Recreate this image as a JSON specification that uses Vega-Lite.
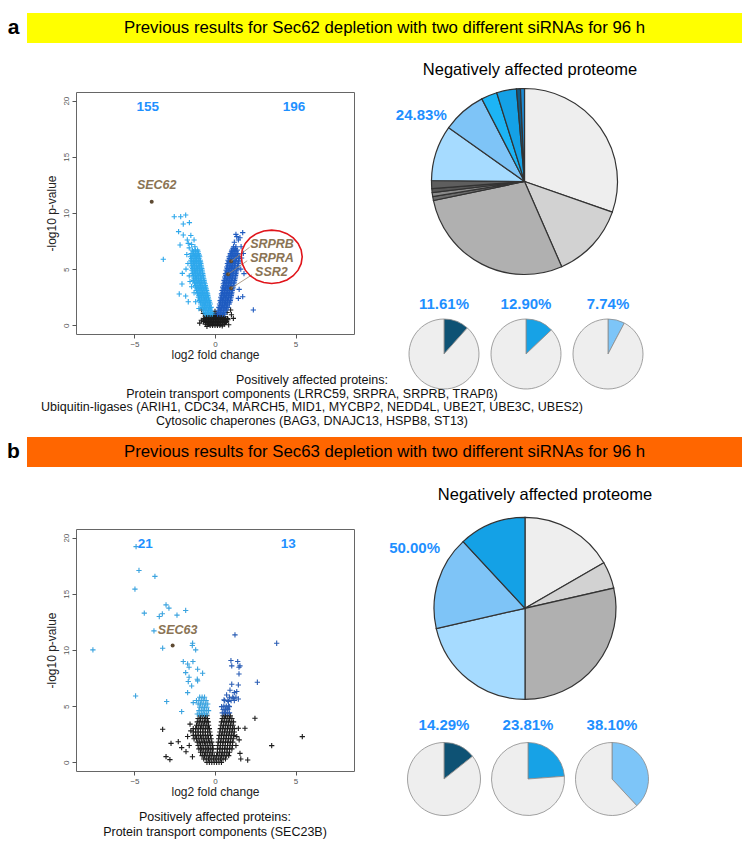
{
"$schema": "https://vega.github.io/schema/vega-lite/v6.json",
"padding": {"left": 0, "top": 13, "right": 0, "bottom": 0},
"background": "white",
"config": {"view": {"stroke": null}, "font": "Liberation Sans", "text": {"font": "Liberation Sans"}, "axis": {"labelFont": "Liberation Sans", "titleFont": "Liberation Sans"}},
"spacing": 0,
"resolve": {"scale": {"color": "independent", "theta": "independent"}},
"vconcat": [
 {"hconcat": [
  {"width": 27, "height": 30, "data": {"values": [{"t": "a"}]}, "mark": {"type": "text", "fontSize": 21, "fontWeight": "bold", "color": "#000"}, "encoding": {"text": {"field": "t"}}},
  {"width": 715, "height": 30, "view": {"fill": "#FFFF00", "stroke": null}, "data": {"values": [{"t": "Previous results for Sec62 depletion with two different siRNAs for 96 h"}]}, "mark": {"type": "text", "fontSize": 16.8, "color": "#000"}, "encoding": {"text": {"field": "t"}}}
 ], "spacing": 0, "bounds": "flush"},
 {"columns": 4, "spacing": 0, "bounds": "flush", "align": "each",
  "resolve": {"scale": {"color": "independent", "theta": "independent"}},
  "concat": [
   {"width": 76, "height": 49, "data": {"values": [{}]}, "mark": {"type": "point", "opacity": 0, "size": 0}},
   {"width": 278, "height": 0.01, "data": {"values": [{}]}, "mark": {"type": "point", "opacity": 0, "size": 0}},
   {"width": 49, "height": 0.01, "data": {"values": [{}]}, "mark": {"type": "point", "opacity": 0, "size": 0}},
   {"width": 246, "height": 0.01, "data": {"values": [{}]}, "mark": {"type": "point", "opacity": 0, "size": 0}},

   {"width": 76, "height": 0.01, "data": {"values": [{}]}, "mark": {"type": "point", "opacity": 0, "size": 0}},
   {"width": 278, "height": 242,
    "view": {"stroke": "#666", "strokeWidth": 1},
    "layer": [
     {"data": {"values": [
{"x":-0.3,"y":0,"g":"N"},{"x":-0.15,"y":0,"g":"N"},{"x":0,"y":0,"g":"N"},{"x":0.15,"y":0,"g":"N"},{"x":0.3,"y":0,"g":"N"},
{"x":-0.6,"y":0.1,"g":"N"},{"x":-0.48,"y":0.1,"g":"N"},{"x":-0.36,"y":0.1,"g":"N"},{"x":-0.24,"y":0.1,"g":"N"},{"x":-0.12,"y":0.1,"g":"N"},{"x":0,"y":0.1,"g":"N"},{"x":0.12,"y":0.1,"g":"N"},{"x":0.24,"y":0.1,"g":"N"},{"x":0.36,"y":0.1,"g":"N"},{"x":0.48,"y":0.1,"g":"N"},{"x":0.6,"y":0.1,"g":"N"},
{"x":-0.55,"y":0.25,"g":"N"},{"x":-0.4,"y":0.25,"g":"N"},{"x":-0.25,"y":0.25,"g":"N"},{"x":-0.1,"y":0.25,"g":"N"},{"x":0.05,"y":0.25,"g":"N"},{"x":0.2,"y":0.25,"g":"N"},{"x":0.35,"y":0.25,"g":"N"},{"x":0.5,"y":0.25,"g":"N"},{"x":0.65,"y":0.25,"g":"N"},
{"x":-0.72,"y":0.35,"g":"N"},{"x":-0.6,"y":0.35,"g":"N"},{"x":-0.48,"y":0.35,"g":"N"},{"x":-0.36,"y":0.35,"g":"N"},{"x":-0.24,"y":0.35,"g":"N"},{"x":-0.12,"y":0.35,"g":"N"},{"x":0,"y":0.35,"g":"N"},{"x":0.12,"y":0.35,"g":"N"},{"x":0.24,"y":0.35,"g":"N"},{"x":0.36,"y":0.35,"g":"N"},{"x":0.48,"y":0.35,"g":"N"},{"x":0.6,"y":0.35,"g":"N"},{"x":0.72,"y":0.35,"g":"N"},
{"x":-0.7,"y":0.5,"g":"N"},{"x":-0.55,"y":0.5,"g":"N"},{"x":-0.4,"y":0.5,"g":"N"},{"x":-0.25,"y":0.5,"g":"N"},{"x":-0.1,"y":0.5,"g":"N"},{"x":0.05,"y":0.5,"g":"N"},{"x":0.2,"y":0.5,"g":"N"},{"x":0.35,"y":0.5,"g":"N"},{"x":0.5,"y":0.5,"g":"N"},{"x":0.65,"y":0.5,"g":"N"},{"x":0.8,"y":0.5,"g":"N"},
{"x":-0.66,"y":0.6,"g":"N"},{"x":-0.54,"y":0.6,"g":"N"},{"x":-0.42,"y":0.6,"g":"N"},{"x":-0.3,"y":0.6,"g":"N"},{"x":-0.18,"y":0.6,"g":"N"},{"x":-0.06,"y":0.6,"g":"N"},{"x":0.06,"y":0.6,"g":"N"},{"x":0.18,"y":0.6,"g":"N"},{"x":0.3,"y":0.6,"g":"N"},{"x":0.42,"y":0.6,"g":"N"},{"x":0.54,"y":0.6,"g":"N"},{"x":0.66,"y":0.6,"g":"N"},{"x":0.78,"y":0.6,"g":"N"},
{"x":-0.6,"y":0.75,"g":"N"},{"x":-0.45,"y":0.75,"g":"N"},{"x":-0.3,"y":0.75,"g":"N"},{"x":-0.15,"y":0.75,"g":"N"},{"x":0,"y":0.75,"g":"N"},{"x":0.15,"y":0.75,"g":"N"},{"x":0.3,"y":0.75,"g":"N"},{"x":0.45,"y":0.75,"g":"N"},{"x":0.6,"y":0.75,"g":"N"},
{"x":-0.5,"y":0.85,"g":"N"},{"x":-0.38,"y":0.85,"g":"N"},{"x":-0.26,"y":0.85,"g":"N"},{"x":-0.14,"y":0.85,"g":"N"},{"x":-0.02,"y":0.85,"g":"N"},{"x":0.1,"y":0.85,"g":"N"},{"x":0.22,"y":0.85,"g":"N"},{"x":0.34,"y":0.85,"g":"N"},{"x":0.46,"y":0.85,"g":"N"},
{"x":-0.05,"y":1.0,"g":"N"},{"x":0.07,"y":1.0,"g":"N"},{"x":0,"y":1.25,"g":"N"},
{"x":-0.85,"y":0.45,"g":"N"},{"x":1.14,"y":0.62,"g":"N"},{"x":0.97,"y":1.37,"g":"N"},{"x":-0.83,"y":1.37,"g":"N"},{"x":-0.95,"y":0.2,"g":"N"},{"x":0.85,"y":0.05,"g":"N"},{"x":1.02,"y":0.95,"g":"N"},{"x":-0.72,"y":1.05,"g":"N"},{"x":0.75,"y":1.15,"g":"N"},{"x":-0.5,"y":-0.1,"g":"N"},{"x":0.45,"y":-0.05,"g":"N"},
{"x":-0.6,"y":1.0,"g":"L"},{"x":-0.45,"y":1.0,"g":"L"},{"x":-0.3,"y":1.0,"g":"L"},{"x":-0.17,"y":1.0,"g":"L"},
{"x":-0.62,"y":1.15,"g":"L"},{"x":-0.47,"y":1.15,"g":"L"},{"x":-0.32,"y":1.15,"g":"L"},{"x":-0.2,"y":1.15,"g":"L"},
{"x":-0.7,"y":1.3,"g":"L"},{"x":-0.55,"y":1.3,"g":"L"},{"x":-0.4,"y":1.3,"g":"L"},{"x":-0.25,"y":1.3,"g":"L"},
{"x":-0.72,"y":1.45,"g":"L"},{"x":-0.57,"y":1.45,"g":"L"},{"x":-0.42,"y":1.45,"g":"L"},{"x":-0.28,"y":1.45,"g":"L"},
{"x":-0.8,"y":1.6,"g":"L"},{"x":-0.65,"y":1.6,"g":"L"},{"x":-0.5,"y":1.6,"g":"L"},{"x":-0.35,"y":1.6,"g":"L"},{"x":-0.24,"y":1.6,"g":"L"},
{"x":-0.8,"y":1.75,"g":"L"},{"x":-0.65,"y":1.75,"g":"L"},{"x":-0.5,"y":1.75,"g":"L"},{"x":-0.35,"y":1.75,"g":"L"},
{"x":-0.88,"y":1.9,"g":"L"},{"x":-0.73,"y":1.9,"g":"L"},{"x":-0.58,"y":1.9,"g":"L"},{"x":-0.43,"y":1.9,"g":"L"},{"x":-0.29,"y":1.9,"g":"L"},
{"x":-0.9,"y":2.05,"g":"L"},{"x":-0.75,"y":2.05,"g":"L"},{"x":-0.6,"y":2.05,"g":"L"},{"x":-0.45,"y":2.05,"g":"L"},{"x":-0.33,"y":2.05,"g":"L"},
{"x":-0.97,"y":2.2,"g":"L"},{"x":-0.82,"y":2.2,"g":"L"},{"x":-0.67,"y":2.2,"g":"L"},{"x":-0.52,"y":2.2,"g":"L"},{"x":-0.36,"y":2.2,"g":"L"},
{"x":-0.96,"y":2.35,"g":"L"},{"x":-0.81,"y":2.35,"g":"L"},{"x":-0.66,"y":2.35,"g":"L"},{"x":-0.51,"y":2.35,"g":"L"},{"x":-0.4,"y":2.35,"g":"L"},
{"x":-1.03,"y":2.5,"g":"L"},{"x":-0.88,"y":2.5,"g":"L"},{"x":-0.73,"y":2.5,"g":"L"},{"x":-0.58,"y":2.5,"g":"L"},{"x":-0.42,"y":2.5,"g":"L"},
{"x":-1.0,"y":2.65,"g":"L"},{"x":-0.85,"y":2.65,"g":"L"},{"x":-0.7,"y":2.65,"g":"L"},{"x":-0.55,"y":2.65,"g":"L"},{"x":-0.45,"y":2.65,"g":"L"},
{"x":-1.08,"y":2.8,"g":"L"},{"x":-0.93,"y":2.8,"g":"L"},{"x":-0.78,"y":2.8,"g":"L"},{"x":-0.63,"y":2.8,"g":"L"},{"x":-0.46,"y":2.8,"g":"L"},
{"x":-1.07,"y":2.95,"g":"L"},{"x":-0.92,"y":2.95,"g":"L"},{"x":-0.77,"y":2.95,"g":"L"},{"x":-0.62,"y":2.95,"g":"L"},{"x":-0.5,"y":2.95,"g":"L"},
{"x":-1.15,"y":3.1,"g":"L"},{"x":-1.0,"y":3.1,"g":"L"},{"x":-0.85,"y":3.1,"g":"L"},{"x":-0.7,"y":3.1,"g":"L"},{"x":-0.52,"y":3.1,"g":"L"},
{"x":-1.13,"y":3.25,"g":"L"},{"x":-0.98,"y":3.25,"g":"L"},{"x":-0.83,"y":3.25,"g":"L"},{"x":-0.68,"y":3.25,"g":"L"},{"x":-0.55,"y":3.25,"g":"L"},
{"x":-1.2,"y":3.4,"g":"L"},{"x":-1.05,"y":3.4,"g":"L"},{"x":-0.9,"y":3.4,"g":"L"},{"x":-0.75,"y":3.4,"g":"L"},{"x":-0.58,"y":3.4,"g":"L"},
{"x":-1.2,"y":3.55,"g":"L"},{"x":-1.05,"y":3.55,"g":"L"},{"x":-0.9,"y":3.55,"g":"L"},{"x":-0.75,"y":3.55,"g":"L"},{"x":-0.6,"y":3.55,"g":"L"},
{"x":-1.27,"y":3.7,"g":"L"},{"x":-1.12,"y":3.7,"g":"L"},{"x":-0.97,"y":3.7,"g":"L"},{"x":-0.82,"y":3.7,"g":"L"},{"x":-0.62,"y":3.7,"g":"L"},
{"x":-1.26,"y":3.85,"g":"L"},{"x":-1.11,"y":3.85,"g":"L"},{"x":-0.96,"y":3.85,"g":"L"},{"x":-0.81,"y":3.85,"g":"L"},{"x":-0.66,"y":3.85,"g":"L"},
{"x":-1.33,"y":4.0,"g":"L"},{"x":-1.18,"y":4.0,"g":"L"},{"x":-1.03,"y":4.0,"g":"L"},{"x":-0.88,"y":4.0,"g":"L"},{"x":-0.68,"y":4.0,"g":"L"},
{"x":-1.3,"y":4.15,"g":"L"},{"x":-1.15,"y":4.15,"g":"L"},{"x":-1.0,"y":4.15,"g":"L"},{"x":-0.85,"y":4.15,"g":"L"},{"x":-0.7,"y":4.15,"g":"L"},
{"x":-1.36,"y":4.3,"g":"L"},{"x":-1.21,"y":4.3,"g":"L"},{"x":-1.06,"y":4.3,"g":"L"},{"x":-0.91,"y":4.3,"g":"L"},{"x":-0.72,"y":4.3,"g":"L"},
{"x":-1.33,"y":4.45,"g":"L"},{"x":-1.18,"y":4.45,"g":"L"},{"x":-1.03,"y":4.45,"g":"L"},{"x":-0.88,"y":4.45,"g":"L"},{"x":-0.75,"y":4.45,"g":"L"},
{"x":-1.4,"y":4.6,"g":"L"},{"x":-1.25,"y":4.6,"g":"L"},{"x":-1.1,"y":4.6,"g":"L"},{"x":-0.95,"y":4.6,"g":"L"},{"x":-0.76,"y":4.6,"g":"L"},
{"x":-1.36,"y":4.75,"g":"L"},{"x":-1.21,"y":4.75,"g":"L"},{"x":-1.06,"y":4.75,"g":"L"},{"x":-0.91,"y":4.75,"g":"L"},{"x":-0.78,"y":4.75,"g":"L"},
{"x":-1.43,"y":4.9,"g":"L"},{"x":-1.28,"y":4.9,"g":"L"},{"x":-1.13,"y":4.9,"g":"L"},{"x":-0.98,"y":4.9,"g":"L"},{"x":-0.8,"y":4.9,"g":"L"},
{"x":-1.39,"y":5.05,"g":"L"},{"x":-1.24,"y":5.05,"g":"L"},{"x":-1.09,"y":5.05,"g":"L"},{"x":-0.94,"y":5.05,"g":"L"},{"x":-0.82,"y":5.05,"g":"L"},
{"x":-1.46,"y":5.2,"g":"L"},{"x":-1.31,"y":5.2,"g":"L"},{"x":-1.16,"y":5.2,"g":"L"},{"x":-1.01,"y":5.2,"g":"L"},{"x":-0.84,"y":5.2,"g":"L"},
{"x":-1.42,"y":5.35,"g":"L"},{"x":-1.27,"y":5.35,"g":"L"},{"x":-1.12,"y":5.35,"g":"L"},{"x":-0.97,"y":5.35,"g":"L"},{"x":-0.86,"y":5.35,"g":"L"},
{"x":-1.49,"y":5.5,"g":"L"},{"x":-1.34,"y":5.5,"g":"L"},{"x":-1.19,"y":5.5,"g":"L"},{"x":-1.04,"y":5.5,"g":"L"},{"x":-0.88,"y":5.5,"g":"L"},
{"x":-1.44,"y":5.65,"g":"L"},{"x":-1.29,"y":5.65,"g":"L"},{"x":-1.14,"y":5.65,"g":"L"},{"x":-0.99,"y":5.65,"g":"L"},{"x":-0.9,"y":5.65,"g":"L"},
{"x":-1.5,"y":5.8,"g":"L"},{"x":-1.35,"y":5.8,"g":"L"},{"x":-1.2,"y":5.8,"g":"L"},{"x":-1.05,"y":5.8,"g":"L"},{"x":-0.92,"y":5.8,"g":"L"},
{"x":-1.45,"y":5.95,"g":"L"},{"x":-1.3,"y":5.95,"g":"L"},{"x":-1.15,"y":5.95,"g":"L"},{"x":-1.0,"y":5.95,"g":"L"},
{"x":-1.52,"y":6.1,"g":"L"},{"x":-1.37,"y":6.1,"g":"L"},{"x":-1.22,"y":6.1,"g":"L"},{"x":-1.07,"y":6.1,"g":"L"},{"x":-0.95,"y":6.1,"g":"L"},
{"x":-1.42,"y":6.25,"g":"L"},{"x":-1.27,"y":6.25,"g":"L"},{"x":-1.12,"y":6.25,"g":"L"},{"x":-0.98,"y":6.25,"g":"L"},
{"x":-1.48,"y":6.4,"g":"L"},{"x":-1.33,"y":6.4,"g":"L"},{"x":-1.18,"y":6.4,"g":"L"},{"x":-1.03,"y":6.4,"g":"L"},
{"x":-1.35,"y":6.55,"g":"L"},{"x":-1.2,"y":6.55,"g":"L"},{"x":-1.05,"y":6.55,"g":"L"},
{"x":-1.4,"y":6.7,"g":"L"},{"x":-1.22,"y":6.7,"g":"L"},{"x":-1.08,"y":6.7,"g":"L"},
{"x":-2.53,"y":9.67,"g":"L"},{"x":-2.13,"y":9.67,"g":"L"},{"x":-1.82,"y":9.82,"g":"L"},{"x":-1.97,"y":9.02,"g":"L"},{"x":-1.59,"y":9.14,"g":"L"},{"x":-2.26,"y":8.34,"g":"L"},{"x":-1.97,"y":8.04,"g":"L"},{"x":-1.72,"y":7.6,"g":"L"},{"x":-2.17,"y":7.15,"g":"L"},{"x":-1.66,"y":7.3,"g":"L"},{"x":-3.21,"y":5.88,"g":"L"},{"x":-2.03,"y":4.63,"g":"L"},{"x":-2.05,"y":3.68,"g":"L"},{"x":-2.22,"y":2.79,"g":"L"},{"x":-1.82,"y":2.61,"g":"L"},{"x":-1.66,"y":2.1,"g":"L"},{"x":-1.45,"y":3.44,"g":"L"},{"x":-1.6,"y":6.9,"g":"L"},{"x":-1.75,"y":6.3,"g":"L"},{"x":-1.68,"y":5.5,"g":"L"},{"x":-1.8,"y":5.0,"g":"L"},{"x":-1.6,"y":4.4,"g":"L"},{"x":-1.55,"y":3.9,"g":"L"},{"x":-1.3,"y":2.9,"g":"L"},{"x":-1.2,"y":2.1,"g":"L"},{"x":-1.0,"y":1.5,"g":"L"},{"x":-1.45,"y":7.2,"g":"L"},{"x":-1.25,"y":7.0,"g":"L"},{"x":-1.3,"y":7.6,"g":"L"},{"x":-1.5,"y":8.0,"g":"L"},
{"x":0.16,"y":1.0,"g":"R"},{"x":0.31,"y":1.0,"g":"R"},{"x":0.46,"y":1.0,"g":"R"},{"x":0.6,"y":1.0,"g":"R"},
{"x":0.23,"y":1.15,"g":"R"},{"x":0.38,"y":1.15,"g":"R"},{"x":0.53,"y":1.15,"g":"R"},
{"x":0.2,"y":1.3,"g":"R"},{"x":0.35,"y":1.3,"g":"R"},{"x":0.5,"y":1.3,"g":"R"},{"x":0.67,"y":1.3,"g":"R"},
{"x":0.27,"y":1.45,"g":"R"},{"x":0.42,"y":1.45,"g":"R"},{"x":0.57,"y":1.45,"g":"R"},{"x":0.72,"y":1.45,"g":"R"},
{"x":0.24,"y":1.6,"g":"R"},{"x":0.39,"y":1.6,"g":"R"},{"x":0.54,"y":1.6,"g":"R"},{"x":0.69,"y":1.6,"g":"R"},{"x":0.8,"y":1.6,"g":"R"},
{"x":0.31,"y":1.75,"g":"R"},{"x":0.46,"y":1.75,"g":"R"},{"x":0.61,"y":1.75,"g":"R"},{"x":0.76,"y":1.75,"g":"R"},
{"x":0.28,"y":1.9,"g":"R"},{"x":0.43,"y":1.9,"g":"R"},{"x":0.58,"y":1.9,"g":"R"},{"x":0.73,"y":1.9,"g":"R"},{"x":0.89,"y":1.9,"g":"R"},
{"x":0.35,"y":2.05,"g":"R"},{"x":0.5,"y":2.05,"g":"R"},{"x":0.65,"y":2.05,"g":"R"},{"x":0.8,"y":2.05,"g":"R"},{"x":0.92,"y":2.05,"g":"R"},
{"x":0.32,"y":2.2,"g":"R"},{"x":0.47,"y":2.2,"g":"R"},{"x":0.62,"y":2.2,"g":"R"},{"x":0.77,"y":2.2,"g":"R"},{"x":0.95,"y":2.2,"g":"R"},
{"x":0.39,"y":2.35,"g":"R"},{"x":0.54,"y":2.35,"g":"R"},{"x":0.69,"y":2.35,"g":"R"},{"x":0.84,"y":2.35,"g":"R"},{"x":0.97,"y":2.35,"g":"R"},
{"x":0.36,"y":2.5,"g":"R"},{"x":0.51,"y":2.5,"g":"R"},{"x":0.66,"y":2.5,"g":"R"},{"x":0.81,"y":2.5,"g":"R"},{"x":0.99,"y":2.5,"g":"R"},
{"x":0.43,"y":2.65,"g":"R"},{"x":0.58,"y":2.65,"g":"R"},{"x":0.73,"y":2.65,"g":"R"},{"x":0.88,"y":2.65,"g":"R"},{"x":1.01,"y":2.65,"g":"R"},
{"x":0.4,"y":2.8,"g":"R"},{"x":0.55,"y":2.8,"g":"R"},{"x":0.7,"y":2.8,"g":"R"},{"x":0.85,"y":2.8,"g":"R"},{"x":1.03,"y":2.8,"g":"R"},
{"x":0.47,"y":2.95,"g":"R"},{"x":0.62,"y":2.95,"g":"R"},{"x":0.77,"y":2.95,"g":"R"},{"x":0.92,"y":2.95,"g":"R"},{"x":1.05,"y":2.95,"g":"R"},
{"x":0.44,"y":3.1,"g":"R"},{"x":0.59,"y":3.1,"g":"R"},{"x":0.74,"y":3.1,"g":"R"},{"x":0.89,"y":3.1,"g":"R"},{"x":1.07,"y":3.1,"g":"R"},
{"x":0.51,"y":3.25,"g":"R"},{"x":0.66,"y":3.25,"g":"R"},{"x":0.81,"y":3.25,"g":"R"},{"x":0.96,"y":3.25,"g":"R"},{"x":1.1,"y":3.25,"g":"R"},
{"x":0.48,"y":3.4,"g":"R"},{"x":0.63,"y":3.4,"g":"R"},{"x":0.78,"y":3.4,"g":"R"},{"x":0.93,"y":3.4,"g":"R"},{"x":1.12,"y":3.4,"g":"R"},
{"x":0.55,"y":3.55,"g":"R"},{"x":0.7,"y":3.55,"g":"R"},{"x":0.85,"y":3.55,"g":"R"},{"x":1.0,"y":3.55,"g":"R"},{"x":1.15,"y":3.55,"g":"R"},
{"x":0.52,"y":3.7,"g":"R"},{"x":0.67,"y":3.7,"g":"R"},{"x":0.82,"y":3.7,"g":"R"},{"x":0.97,"y":3.7,"g":"R"},{"x":1.17,"y":3.7,"g":"R"},
{"x":0.59,"y":3.85,"g":"R"},{"x":0.74,"y":3.85,"g":"R"},{"x":0.89,"y":3.85,"g":"R"},{"x":1.04,"y":3.85,"g":"R"},{"x":1.19,"y":3.85,"g":"R"},
{"x":0.56,"y":4.0,"g":"R"},{"x":0.71,"y":4.0,"g":"R"},{"x":0.86,"y":4.0,"g":"R"},{"x":1.01,"y":4.0,"g":"R"},{"x":1.22,"y":4.0,"g":"R"},
{"x":0.63,"y":4.15,"g":"R"},{"x":0.78,"y":4.15,"g":"R"},{"x":0.93,"y":4.15,"g":"R"},{"x":1.08,"y":4.15,"g":"R"},{"x":1.24,"y":4.15,"g":"R"},
{"x":0.6,"y":4.3,"g":"R"},{"x":0.75,"y":4.3,"g":"R"},{"x":0.9,"y":4.3,"g":"R"},{"x":1.05,"y":4.3,"g":"R"},{"x":1.27,"y":4.3,"g":"R"},
{"x":0.67,"y":4.45,"g":"R"},{"x":0.82,"y":4.45,"g":"R"},{"x":0.97,"y":4.45,"g":"R"},{"x":1.12,"y":4.45,"g":"R"},{"x":1.28,"y":4.45,"g":"R"},
{"x":0.65,"y":4.6,"g":"R"},{"x":0.8,"y":4.6,"g":"R"},{"x":0.95,"y":4.6,"g":"R"},{"x":1.1,"y":4.6,"g":"R"},{"x":1.3,"y":4.6,"g":"R"},
{"x":0.72,"y":4.75,"g":"R"},{"x":0.87,"y":4.75,"g":"R"},{"x":1.02,"y":4.75,"g":"R"},{"x":1.17,"y":4.75,"g":"R"},{"x":1.32,"y":4.75,"g":"R"},
{"x":0.69,"y":4.9,"g":"R"},{"x":0.84,"y":4.9,"g":"R"},{"x":0.99,"y":4.9,"g":"R"},{"x":1.14,"y":4.9,"g":"R"},{"x":1.35,"y":4.9,"g":"R"},
{"x":0.76,"y":5.05,"g":"R"},{"x":0.91,"y":5.05,"g":"R"},{"x":1.06,"y":5.05,"g":"R"},{"x":1.21,"y":5.05,"g":"R"},{"x":1.37,"y":5.05,"g":"R"},
{"x":0.73,"y":5.2,"g":"R"},{"x":0.88,"y":5.2,"g":"R"},{"x":1.03,"y":5.2,"g":"R"},{"x":1.18,"y":5.2,"g":"R"},{"x":1.4,"y":5.2,"g":"R"},
{"x":0.8,"y":5.35,"g":"R"},{"x":0.95,"y":5.35,"g":"R"},{"x":1.1,"y":5.35,"g":"R"},{"x":1.25,"y":5.35,"g":"R"},{"x":1.42,"y":5.35,"g":"R"},
{"x":0.77,"y":5.5,"g":"R"},{"x":0.92,"y":5.5,"g":"R"},{"x":1.07,"y":5.5,"g":"R"},{"x":1.22,"y":5.5,"g":"R"},{"x":1.44,"y":5.5,"g":"R"},
{"x":0.84,"y":5.65,"g":"R"},{"x":0.99,"y":5.65,"g":"R"},{"x":1.14,"y":5.65,"g":"R"},{"x":1.29,"y":5.65,"g":"R"},{"x":1.46,"y":5.65,"g":"R"},
{"x":0.81,"y":5.8,"g":"R"},{"x":0.96,"y":5.8,"g":"R"},{"x":1.11,"y":5.8,"g":"R"},{"x":1.26,"y":5.8,"g":"R"},{"x":1.48,"y":5.8,"g":"R"},
{"x":0.89,"y":5.95,"g":"R"},{"x":1.04,"y":5.95,"g":"R"},{"x":1.19,"y":5.95,"g":"R"},{"x":1.34,"y":5.95,"g":"R"},{"x":1.49,"y":5.95,"g":"R"},
{"x":0.87,"y":6.1,"g":"R"},{"x":1.02,"y":6.1,"g":"R"},{"x":1.17,"y":6.1,"g":"R"},{"x":1.32,"y":6.1,"g":"R"},{"x":1.5,"y":6.1,"g":"R"},
{"x":0.95,"y":6.25,"g":"R"},{"x":1.1,"y":6.25,"g":"R"},{"x":1.25,"y":6.25,"g":"R"},{"x":1.4,"y":6.25,"g":"R"},
{"x":0.95,"y":6.4,"g":"R"},{"x":1.1,"y":6.4,"g":"R"},{"x":1.25,"y":6.4,"g":"R"},{"x":1.42,"y":6.4,"g":"R"},
{"x":1.02,"y":6.55,"g":"R"},{"x":1.17,"y":6.55,"g":"R"},{"x":1.32,"y":6.55,"g":"R"},
{"x":1.05,"y":6.7,"g":"R"},{"x":1.2,"y":6.7,"g":"R"},{"x":1.38,"y":6.7,"g":"R"},
{"x":1.12,"y":6.85,"g":"R"},{"x":1.27,"y":6.85,"g":"R"},
{"x":1.15,"y":7.0,"g":"R"},{"x":1.3,"y":7.0,"g":"R"},
{"x":1.35,"y":7.9,"g":"R"},{"x":1.72,"y":8.25,"g":"R"},{"x":1.45,"y":7.6,"g":"R"},{"x":1.62,"y":7.0,"g":"R"},{"x":1.76,"y":6.4,"g":"R"},{"x":1.45,"y":2.4,"g":"R"},{"x":1.72,"y":2.55,"g":"R"},{"x":2.38,"y":1.37,"g":"R"},{"x":1.6,"y":5.0,"g":"R"},{"x":1.5,"y":3.2,"g":"R"},{"x":1.8,"y":4.6,"g":"R"},{"x":1.65,"y":6.0,"g":"R"},{"x":1.2,"y":7.4,"g":"R"},{"x":1.55,"y":7.8,"g":"R"},{"x":1.3,"y":8.1,"g":"R"}
     ]},
      "mark": {"type": "point", "shape": "M-1,0L1,0M0,-1L0,1", "filled": false, "size": 28, "strokeWidth": 1.1, "opacity": 1},
      "encoding": {
       "x": {"field": "x", "type": "quantitative", "scale": {"domain": [-8.63, 8.63], "nice": false, "zero": false}, "axis": {"values": [-5, 0, 5], "grid": false, "domain": false, "tickSize": 4, "tickColor": "#555", "labelFontSize": 8, "labelColor": "#555", "labelPadding": 2, "labelFlush": false, "title": "log2 fold change", "titleFontSize": 12, "titleFontWeight": "normal", "titleColor": "#222", "titlePadding": 1}},
       "y": {"field": "y", "type": "quantitative", "scale": {"domain": [-0.77, 20.77], "nice": false, "zero": false}, "axis": {"values": [0, 5, 10, 15, 20], "grid": false, "domain": false, "tickSize": 4, "tickColor": "#555", "labelFontSize": 8, "labelColor": "#555", "labelAngle": -90, "labelPadding": 2, "labelFlush": false, "title": "-log10 p-value", "titleFontSize": 12, "titleFontWeight": "normal", "titleColor": "#222", "titlePadding": 4}},
       "color": {"field": "g", "type": "nominal", "scale": {"domain": ["N", "L", "R"], "range": ["#1c1c1c", "#2EA8EC", "#1F5BC0"]}, "legend": null}
      }},
     {"data": {"values": [{"x": -3.93, "y": 11.0}, {"x": 1.0, "y": 5.7}, {"x": 0.81, "y": 4.55}, {"x": 1.0, "y": 3.3}]},
      "mark": {"type": "circle", "size": 16, "color": "#5e4a32", "opacity": 1},
      "encoding": {"x": {"field": "x", "type": "quantitative"}, "y": {"field": "y", "type": "quantitative"}}},
     {"data": {"values": [{"x": 1.0, "y": 5.7, "x2": 2.15, "y2": 6.95}, {"x": 0.81, "y": 4.55, "x2": 2.0, "y2": 5.75}, {"x": 1.0, "y": 3.3, "x2": 2.3, "y2": 4.5}]},
      "mark": {"type": "rule", "color": "#9a8670", "strokeWidth": 0.8},
      "encoding": {"x": {"field": "x", "type": "quantitative"}, "y": {"field": "y", "type": "quantitative"}, "x2": {"field": "x2"}, "y2": {"field": "y2"}}},
     {"data": {"values": [{"x": -3.62, "y": 12.48, "t": "SEC62"}, {"x": 3.54, "y": 7.23, "t": "SRPRB"}, {"x": 3.54, "y": 5.99, "t": "SRPRA"}, {"x": 3.5, "y": 4.74, "t": "SSR2"}]},
      "mark": {"type": "text", "fontSize": 12.5, "fontWeight": "bold", "fontStyle": "italic", "color": "#8a7354"},
      "encoding": {"x": {"field": "x", "type": "quantitative"}, "y": {"field": "y", "type": "quantitative"}, "text": {"field": "t"}}},
     {"data": {"values": [{"x": -4.18, "y": 19.45, "t": "155"}, {"x": 4.9, "y": 19.4, "t": "196"}]},
      "mark": {"type": "text", "fontSize": 13.5, "fontWeight": "bold", "color": "#1E90FF"},
      "encoding": {"x": {"field": "x", "type": "quantitative"}, "y": {"field": "y", "type": "quantitative"}, "text": {"field": "t"}}},
     {"data": {"values": [{"x": 3.52, "y": 6.1}]},
      "mark": {"type": "point", "shape": "M1,0L0.966,0.226L0.866,0.438L0.707,0.619L0.5,0.758L0.259,0.845L0,0.875L-0.259,0.845L-0.5,0.758L-0.707,0.619L-0.866,0.438L-0.966,0.226L-1,0L-0.966,-0.226L-0.866,-0.438L-0.707,-0.619L-0.5,-0.758L-0.259,-0.845L0,-0.875L0.259,-0.845L0.5,-0.758L0.707,-0.619L0.866,-0.438L0.966,-0.226Z", "filled": false, "size": 3721, "color": "#E0151B", "strokeWidth": 1.6, "opacity": 1},
      "encoding": {"x": {"field": "x", "type": "quantitative"}, "y": {"field": "y", "type": "quantitative"}}}
    ]},
   {"width": 49, "height": 0.01, "data": {"values": [{}]}, "mark": {"type": "point", "opacity": 0, "size": 0}},
   {"width": 246, "height": 179,
    "layer": [
     {"data": {"values": [
      {"pie": "A", "cat": "g1", "n": 44, "o": 1}, {"pie": "A", "cat": "g2", "n": 19, "o": 2}, {"pie": "A", "cat": "g3", "n": 41, "o": 3},
      {"pie": "A", "cat": "d1", "n": 1, "o": 4}, {"pie": "A", "cat": "d2", "n": 1, "o": 5}, {"pie": "A", "cat": "d3", "n": 1, "o": 6}, {"pie": "A", "cat": "d4", "n": 2, "o": 7},
      {"pie": "A", "cat": "L1", "n": 14, "o": 8}, {"pie": "A", "cat": "L2", "n": 11, "o": 9}, {"pie": "A", "cat": "L3", "n": 4, "o": 10}, {"pie": "A", "cat": "L4", "n": 5, "o": 11}, {"pie": "A", "cat": "L5", "n": 1, "o": 12}, {"pie": "A", "cat": "L6", "n": 1, "o": 13}
     ]},
      "transform": [{"stack": "n", "groupby": ["pie"], "sort": [{"field": "o", "order": "ascending"}], "offset": "normalize", "as": ["t0", "t1"]}],
      "mark": {"type": "arc", "outerRadius": 93, "stroke": "#333", "strokeWidth": 1.2, "xOffset": -1.5},
      "encoding": {
       "theta": {"field": "t0", "type": "quantitative", "scale": {"domain": [0, 1], "range": [0, 6.283185307]}},
       "theta2": {"field": "t1"},
       "color": {"field": "cat", "type": "nominal", "scale": {"domain": ["g1", "g2", "g3", "d1", "d2", "d3", "d4", "L1", "L2", "L3", "L4", "L5", "L6"], "range": ["#EEEEEE", "#D2D2D2", "#B0B0B0", "#6b6b6b", "#8a8a8a", "#575757", "#5e5e5e", "#A6DBFF", "#7EC4F7", "#1DB4F5", "#14A1E6", "#0E5A85", "#1D8BD4"]}, "legend": null}
      }},
     {"data": {"values": [{"t": "24.83%"}]},
      "mark": {"type": "text", "radius": 124, "fontSize": 15, "fontWeight": "bold", "color": "#1E8FFF"},
      "encoding": {"theta": {"datum": 0.84, "type": "quantitative"}, "text": {"field": "t"}}},
     {"data": {"values": [{"t": "Negatively affected proteome"}]},
      "mark": {"type": "text", "dy": -111.5, "dx": 4, "fontSize": 16.5, "color": "#000"},
      "encoding": {"text": {"field": "t"}}}
    ]},

   {"width": 76, "height": 0.01, "data": {"values": [{}]}, "mark": {"type": "point", "opacity": 0, "size": 0}},
   {"width": 278, "height": 103, "data": {"values": [{"t": "Positively affected proteins:\nProtein transport components (LRRC59, SRPRA, SRPRB, TRAPß)\nUbiquitin-ligases (ARIH1, CDC34, MARCH5, MID1, MYCBP2, NEDD4L, UBE2T, UBE3C, UBES2)\nCytosolic chaperones (BAG3, DNAJC13, HSPB8, ST13)"}]},
    "mark": {"type": "text", "lineBreak": "\n", "lineHeight": 13.7, "fontSize": 12.5, "baseline": "middle", "dx": 97, "dy": -5.5, "color": "#111"},
    "encoding": {"text": {"field": "t"}}},
   {"width": 49, "height": 0.01, "data": {"values": [{}]}, "mark": {"type": "point", "opacity": 0, "size": 0}},
   {"width": 246, "height": 40,
    "layer": [
     {"data": {"values": [
      {"pie": "p1", "cat": "navy", "n": 11.61, "o": 1}, {"pie": "p1", "cat": "rest", "n": 88.39, "o": 2},
      {"pie": "p2", "cat": "blue", "n": 12.90, "o": 1}, {"pie": "p2", "cat": "rest", "n": 87.10, "o": 2},
      {"pie": "p3", "cat": "lblue", "n": 7.74, "o": 1}, {"pie": "p3", "cat": "rest", "n": 92.26, "o": 2}
     ]},
      "transform": [{"stack": "n", "groupby": ["pie"], "sort": [{"field": "o", "order": "ascending"}], "offset": "normalize", "as": ["t0", "t1"]}],
      "mark": {"type": "arc", "outerRadius": 35, "stroke": "#8a8a8a", "strokeWidth": 0.8},
      "encoding": {
       "x": {"field": "pie", "type": "nominal", "axis": null},
       "theta": {"field": "t0", "type": "quantitative", "scale": {"domain": [0, 1], "range": [0, 6.283185307]}},
       "theta2": {"field": "t1"},
       "color": {"field": "cat", "type": "nominal", "scale": {"domain": ["navy", "blue", "lblue", "rest"], "range": ["#0E5274", "#17A2E6", "#7DC5F8", "#EEEEEE"]}, "legend": null}
      }},
     {"data": {"values": [{"pie": "p1", "t": "11.61%"}, {"pie": "p2", "t": "12.90%"}, {"pie": "p3", "t": "7.74%"}]},
      "mark": {"type": "text", "dy": -50, "fontSize": 15, "fontWeight": "bold", "color": "#1E8FFF"},
      "encoding": {"x": {"field": "pie", "type": "nominal", "axis": null}, "text": {"field": "t"}}}
    ]}
  ]},
 {"hconcat": [
  {"width": 27, "height": 30, "data": {"values": [{"t": "b"}]}, "mark": {"type": "text", "fontSize": 21, "fontWeight": "bold", "color": "#000"}, "encoding": {"text": {"field": "t"}}},
  {"width": 715, "height": 30, "view": {"fill": "#FF6600", "stroke": null}, "data": {"values": [{"t": "Previous results for Sec63 depletion with two different siRNAs for 96 h"}]}, "mark": {"type": "text", "fontSize": 16.8, "color": "#000"}, "encoding": {"text": {"field": "t"}}}
 ], "spacing": 0, "bounds": "flush"},
 {"columns": 4, "spacing": 0, "bounds": "flush", "align": "each",
  "resolve": {"scale": {"color": "independent", "theta": "independent"}},
  "concat": [
   {"width": 76, "height": 62, "data": {"values": [{}]}, "mark": {"type": "point", "opacity": 0, "size": 0}},
   {"width": 278, "height": 0.01, "data": {"values": [{}]}, "mark": {"type": "point", "opacity": 0, "size": 0}},
   {"width": 47.3, "height": 0.01, "data": {"values": [{}]}, "mark": {"type": "point", "opacity": 0, "size": 0}},
   {"width": 252, "height": 0.01, "data": {"values": [{}]}, "mark": {"type": "point", "opacity": 0, "size": 0}},

   {"width": 76, "height": 0.01, "data": {"values": [{}]}, "mark": {"type": "point", "opacity": 0, "size": 0}},
   {"width": 278, "height": 242,
    "view": {"stroke": "#666", "strokeWidth": 1},
    "layer": [
     {"data": {"values": [
{"x":-0.5,"y":0,"g":"N"},{"x":-0.35,"y":0,"g":"N"},{"x":-0.2,"y":0,"g":"N"},{"x":-0.05,"y":0,"g":"N"},{"x":0.1,"y":0,"g":"N"},{"x":0.25,"y":0,"g":"N"},{"x":0.4,"y":0,"g":"N"},
{"x":-0.7,"y":0.3,"g":"N"},{"x":-0.55,"y":0.3,"g":"N"},{"x":-0.4,"y":0.3,"g":"N"},{"x":-0.25,"y":0.3,"g":"N"},{"x":-0.1,"y":0.3,"g":"N"},{"x":0.05,"y":0.3,"g":"N"},{"x":0.2,"y":0.3,"g":"N"},{"x":0.35,"y":0.3,"g":"N"},{"x":0.5,"y":0.3,"g":"N"},{"x":0.65,"y":0.3,"g":"N"},
{"x":-0.8,"y":0.6,"g":"N"},{"x":-0.65,"y":0.6,"g":"N"},{"x":-0.5,"y":0.6,"g":"N"},{"x":-0.35,"y":0.6,"g":"N"},{"x":-0.2,"y":0.6,"g":"N"},{"x":-0.05,"y":0.6,"g":"N"},{"x":0.1,"y":0.6,"g":"N"},{"x":0.25,"y":0.6,"g":"N"},{"x":0.4,"y":0.6,"g":"N"},{"x":0.55,"y":0.6,"g":"N"},{"x":0.7,"y":0.6,"g":"N"},{"x":0.85,"y":0.6,"g":"N"},
{"x":-0.9,"y":0.9,"g":"N"},{"x":-0.75,"y":0.9,"g":"N"},{"x":-0.6,"y":0.9,"g":"N"},{"x":-0.45,"y":0.9,"g":"N"},{"x":-0.3,"y":0.9,"g":"N"},{"x":-0.15,"y":0.9,"g":"N"},{"x":0.15,"y":0.9,"g":"N"},{"x":0.3,"y":0.9,"g":"N"},{"x":0.45,"y":0.9,"g":"N"},{"x":0.6,"y":0.9,"g":"N"},{"x":0.75,"y":0.9,"g":"N"},{"x":0.9,"y":0.9,"g":"N"},
{"x":-1.0,"y":1.2,"g":"N"},{"x":-0.85,"y":1.2,"g":"N"},{"x":-0.7,"y":1.2,"g":"N"},{"x":-0.55,"y":1.2,"g":"N"},{"x":-0.4,"y":1.2,"g":"N"},{"x":-0.25,"y":1.2,"g":"N"},{"x":-0.12,"y":1.2,"g":"N"},{"x":0.15,"y":1.2,"g":"N"},{"x":0.3,"y":1.2,"g":"N"},{"x":0.45,"y":1.2,"g":"N"},{"x":0.6,"y":1.2,"g":"N"},{"x":0.75,"y":1.2,"g":"N"},{"x":0.9,"y":1.2,"g":"N"},{"x":1.05,"y":1.2,"g":"N"},
{"x":-1.05,"y":1.5,"g":"N"},{"x":-0.9,"y":1.5,"g":"N"},{"x":-0.75,"y":1.5,"g":"N"},{"x":-0.6,"y":1.5,"g":"N"},{"x":-0.45,"y":1.5,"g":"N"},{"x":-0.3,"y":1.5,"g":"N"},{"x":-0.15,"y":1.5,"g":"N"},{"x":0.18,"y":1.5,"g":"N"},{"x":0.33,"y":1.5,"g":"N"},{"x":0.48,"y":1.5,"g":"N"},{"x":0.63,"y":1.5,"g":"N"},{"x":0.78,"y":1.5,"g":"N"},{"x":0.93,"y":1.5,"g":"N"},{"x":1.08,"y":1.5,"g":"N"},
{"x":-1.1,"y":1.8,"g":"N"},{"x":-0.95,"y":1.8,"g":"N"},{"x":-0.8,"y":1.8,"g":"N"},{"x":-0.65,"y":1.8,"g":"N"},{"x":-0.5,"y":1.8,"g":"N"},{"x":-0.35,"y":1.8,"g":"N"},{"x":-0.2,"y":1.8,"g":"N"},{"x":0.2,"y":1.8,"g":"N"},{"x":0.35,"y":1.8,"g":"N"},{"x":0.5,"y":1.8,"g":"N"},{"x":0.65,"y":1.8,"g":"N"},{"x":0.8,"y":1.8,"g":"N"},{"x":0.95,"y":1.8,"g":"N"},{"x":1.1,"y":1.8,"g":"N"},
{"x":-1.3,"y":2.1,"g":"N"},{"x":-1.15,"y":2.1,"g":"N"},{"x":-1.0,"y":2.1,"g":"N"},{"x":-0.85,"y":2.1,"g":"N"},{"x":-0.7,"y":2.1,"g":"N"},{"x":-0.55,"y":2.1,"g":"N"},{"x":-0.4,"y":2.1,"g":"N"},{"x":-0.24,"y":2.1,"g":"N"},{"x":0.23,"y":2.1,"g":"N"},{"x":0.38,"y":2.1,"g":"N"},{"x":0.53,"y":2.1,"g":"N"},{"x":0.68,"y":2.1,"g":"N"},{"x":0.83,"y":2.1,"g":"N"},{"x":0.98,"y":2.1,"g":"N"},{"x":1.13,"y":2.1,"g":"N"},
{"x":-1.35,"y":2.4,"g":"N"},{"x":-1.2,"y":2.4,"g":"N"},{"x":-1.05,"y":2.4,"g":"N"},{"x":-0.9,"y":2.4,"g":"N"},{"x":-0.75,"y":2.4,"g":"N"},{"x":-0.6,"y":2.4,"g":"N"},{"x":-0.45,"y":2.4,"g":"N"},{"x":-0.28,"y":2.4,"g":"N"},{"x":0.26,"y":2.4,"g":"N"},{"x":0.41,"y":2.4,"g":"N"},{"x":0.56,"y":2.4,"g":"N"},{"x":0.71,"y":2.4,"g":"N"},{"x":0.86,"y":2.4,"g":"N"},{"x":1.01,"y":2.4,"g":"N"},{"x":1.16,"y":2.4,"g":"N"},
{"x":-1.35,"y":2.7,"g":"N"},{"x":-1.2,"y":2.7,"g":"N"},{"x":-1.05,"y":2.7,"g":"N"},{"x":-0.9,"y":2.7,"g":"N"},{"x":-0.75,"y":2.7,"g":"N"},{"x":-0.6,"y":2.7,"g":"N"},{"x":-0.45,"y":2.7,"g":"N"},{"x":-0.32,"y":2.7,"g":"N"},{"x":0.3,"y":2.7,"g":"N"},{"x":0.45,"y":2.7,"g":"N"},{"x":0.6,"y":2.7,"g":"N"},{"x":0.75,"y":2.7,"g":"N"},{"x":0.9,"y":2.7,"g":"N"},{"x":1.05,"y":2.7,"g":"N"},{"x":1.2,"y":2.7,"g":"N"},
{"x":-1.35,"y":3.0,"g":"N"},{"x":-1.2,"y":3.0,"g":"N"},{"x":-1.05,"y":3.0,"g":"N"},{"x":-0.9,"y":3.0,"g":"N"},{"x":-0.75,"y":3.0,"g":"N"},{"x":-0.6,"y":3.0,"g":"N"},{"x":-0.45,"y":3.0,"g":"N"},{"x":-0.35,"y":3.0,"g":"N"},{"x":0.33,"y":3.0,"g":"N"},{"x":0.48,"y":3.0,"g":"N"},{"x":0.63,"y":3.0,"g":"N"},{"x":0.78,"y":3.0,"g":"N"},{"x":0.93,"y":3.0,"g":"N"},{"x":1.08,"y":3.0,"g":"N"},{"x":1.2,"y":3.0,"g":"N"},
{"x":-1.15,"y":3.3,"g":"N"},{"x":-1.0,"y":3.3,"g":"N"},{"x":-0.85,"y":3.3,"g":"N"},{"x":-0.7,"y":3.3,"g":"N"},{"x":-0.55,"y":3.3,"g":"N"},{"x":-0.4,"y":3.3,"g":"N"},{"x":0.37,"y":3.3,"g":"N"},{"x":0.52,"y":3.3,"g":"N"},{"x":0.67,"y":3.3,"g":"N"},{"x":0.82,"y":3.3,"g":"N"},{"x":0.97,"y":3.3,"g":"N"},{"x":1.12,"y":3.3,"g":"N"},
{"x":-1.1,"y":3.6,"g":"N"},{"x":-0.95,"y":3.6,"g":"N"},{"x":-0.8,"y":3.6,"g":"N"},{"x":-0.65,"y":3.6,"g":"N"},{"x":-0.5,"y":3.6,"g":"N"},{"x":-0.42,"y":3.6,"g":"N"},{"x":0.4,"y":3.6,"g":"N"},{"x":0.55,"y":3.6,"g":"N"},{"x":0.7,"y":3.6,"g":"N"},{"x":0.85,"y":3.6,"g":"N"},{"x":1.0,"y":3.6,"g":"N"},{"x":1.15,"y":3.6,"g":"N"},
{"x":-1.05,"y":3.9,"g":"N"},{"x":-0.9,"y":3.9,"g":"N"},{"x":-0.75,"y":3.9,"g":"N"},{"x":-0.6,"y":3.9,"g":"N"},{"x":-0.47,"y":3.9,"g":"N"},{"x":0.45,"y":3.9,"g":"N"},{"x":0.6,"y":3.9,"g":"N"},{"x":0.75,"y":3.9,"g":"N"},{"x":0.9,"y":3.9,"g":"N"},{"x":1.05,"y":3.9,"g":"N"},
{"x":-0.95,"y":4.15,"g":"N"},{"x":-0.8,"y":4.15,"g":"N"},{"x":-0.65,"y":4.15,"g":"N"},{"x":-0.5,"y":4.15,"g":"N"},{"x":0.5,"y":4.15,"g":"N"},{"x":0.65,"y":4.15,"g":"N"},{"x":0.8,"y":4.15,"g":"N"},{"x":0.95,"y":4.15,"g":"N"},
{"x":-3.25,"y":2.94,"g":"N"},{"x":-2.73,"y":1.69,"g":"N"},{"x":-3.04,"y":0.51,"g":"N"},{"x":-2.8,"y":0.24,"g":"N"},{"x":-2.28,"y":1.84,"g":"N"},{"x":-2.07,"y":1.31,"g":"N"},{"x":-1.8,"y":0.95,"g":"N"},{"x":2.48,"y":3.92,"g":"N"},{"x":1.86,"y":3.03,"g":"N"},{"x":1.45,"y":3.03,"g":"N"},{"x":3.52,"y":1.49,"g":"N"},{"x":5.42,"y":2.29,"g":"N"},{"x":2.03,"y":0.21,"g":"N"},{"x":1.55,"y":0.8,"g":"N"},{"x":1.35,"y":2.29,"g":"N"},{"x":-1.5,"y":2.8,"g":"N"},{"x":-1.6,"y":1.5,"g":"N"},{"x":-1.4,"y":0.5,"g":"N"},{"x":1.3,"y":1.5,"g":"N"},{"x":1.5,"y":2.0,"g":"N"},{"x":1.6,"y":0.3,"g":"N"},{"x":-1.7,"y":2.3,"g":"N"},{"x":-1.55,"y":3.4,"g":"N"},
{"x":-4.9,"y":19.2,"g":"L"},{"x":-4.72,"y":17.08,"g":"L"},{"x":-3.73,"y":16.55,"g":"L"},{"x":-4.97,"y":15.42,"g":"L"},{"x":-3.04,"y":14.02,"g":"L"},{"x":-2.86,"y":13.73,"g":"L"},{"x":-1.82,"y":13.52,"g":"L"},{"x":-4.39,"y":13.28,"g":"L"},{"x":-3.27,"y":13.22,"g":"L"},{"x":-3.46,"y":12.98,"g":"L"},{"x":-2.36,"y":13.1,"g":"L"},{"x":-3.79,"y":11.7,"g":"L"},{"x":-7.58,"y":10.01,"g":"L"},{"x":-3.25,"y":10.16,"g":"L"},{"x":-1.39,"y":10.6,"g":"L"},{"x":-1.41,"y":10.4,"g":"L"},{"x":-1.2,"y":10.01,"g":"L"},{"x":-1.97,"y":8.97,"g":"L"},{"x":-1.7,"y":8.76,"g":"L"},{"x":-1.61,"y":8.47,"g":"L"},{"x":-1.37,"y":8.97,"g":"L"},{"x":-1.08,"y":8.29,"g":"L"},{"x":-1.82,"y":7.99,"g":"L"},{"x":-0.77,"y":7.93,"g":"L"},{"x":-1.61,"y":7.58,"g":"L"},{"x":-1.66,"y":7.19,"g":"L"},{"x":-1.1,"y":7.4,"g":"L"},{"x":-1.08,"y":7.25,"g":"L"},{"x":-1.45,"y":6.8,"g":"L"},{"x":-1.7,"y":6.21,"g":"L"},{"x":-4.93,"y":5.91,"g":"L"},{"x":-3.0,"y":5.41,"g":"L"},{"x":-1.35,"y":5.32,"g":"L"},{"x":-2.07,"y":4.52,"g":"L"},
{"x":-1.1,"y":4.3,"g":"L"},{"x":-0.95,"y":4.3,"g":"L"},{"x":-0.8,"y":4.3,"g":"L"},{"x":-0.65,"y":4.3,"g":"L"},{"x":-0.5,"y":4.3,"g":"L"},
{"x":-1.0,"y":4.6,"g":"L"},{"x":-0.85,"y":4.6,"g":"L"},{"x":-0.7,"y":4.6,"g":"L"},{"x":-0.55,"y":4.6,"g":"L"},{"x":-0.4,"y":4.6,"g":"L"},
{"x":-0.95,"y":4.9,"g":"L"},{"x":-0.8,"y":4.9,"g":"L"},{"x":-0.65,"y":4.9,"g":"L"},{"x":-0.5,"y":4.9,"g":"L"},
{"x":-1.05,"y":5.2,"g":"L"},{"x":-0.9,"y":5.2,"g":"L"},{"x":-0.75,"y":5.2,"g":"L"},{"x":-0.6,"y":5.2,"g":"L"},{"x":-0.45,"y":5.2,"g":"L"},
{"x":-1.15,"y":5.5,"g":"L"},{"x":-1.0,"y":5.5,"g":"L"},{"x":-0.85,"y":5.5,"g":"L"},{"x":-0.7,"y":5.5,"g":"L"},{"x":-0.55,"y":5.5,"g":"L"},
{"x":-0.95,"y":5.8,"g":"L"},{"x":-0.8,"y":5.8,"g":"L"},{"x":-0.65,"y":5.8,"g":"L"},
{"x":1.24,"y":11.35,"g":"R"},{"x":3.83,"y":10.6,"g":"R"},{"x":0.99,"y":9.06,"g":"R"},{"x":1.41,"y":8.97,"g":"R"},{"x":1.04,"y":8.59,"g":"R"},{"x":1.49,"y":8.47,"g":"R"},{"x":1.55,"y":8.59,"g":"R"},{"x":1.49,"y":7.87,"g":"R"},{"x":1.45,"y":6.89,"g":"R"},{"x":2.63,"y":7.13,"g":"R"},{"x":1.04,"y":6.95,"g":"R"},{"x":0.93,"y":6.42,"g":"R"},{"x":1.2,"y":6.21,"g":"R"},{"x":1.35,"y":6.3,"g":"R"},{"x":1.45,"y":5.64,"g":"R"},{"x":0.72,"y":6.0,"g":"R"},{"x":0.83,"y":5.41,"g":"R"},{"x":1.14,"y":5.7,"g":"R"},{"x":0.56,"y":5.56,"g":"R"},{"x":0.41,"y":4.96,"g":"R"},{"x":0.62,"y":4.66,"g":"R"},{"x":0.79,"y":4.81,"g":"R"},{"x":0.89,"y":4.96,"g":"R"},
{"x":0.45,"y":4.4,"g":"R"},{"x":0.6,"y":4.4,"g":"R"},{"x":0.75,"y":4.4,"g":"R"},{"x":0.9,"y":4.4,"g":"R"},{"x":0.5,"y":4.7,"g":"R"},{"x":0.65,"y":4.7,"g":"R"},{"x":0.8,"y":4.7,"g":"R"},{"x":0.55,"y":5.0,"g":"R"},{"x":0.7,"y":5.0,"g":"R"},{"x":0.85,"y":5.0,"g":"R"},{"x":0.6,"y":5.5,"g":"R"},{"x":0.8,"y":5.5,"g":"R"},{"x":1.0,"y":5.5,"g":"R"},{"x":1.2,"y":5.5,"g":"R"},{"x":0.9,"y":5.8,"g":"R"},{"x":1.1,"y":5.8,"g":"R"},{"x":1.3,"y":5.8,"g":"R"}
     ]},
      "mark": {"type": "point", "shape": "M-1,0L1,0M0,-1L0,1", "filled": false, "size": 28, "strokeWidth": 1.1, "opacity": 1},
      "encoding": {
       "x": {"field": "x", "type": "quantitative", "scale": {"domain": [-8.63, 8.63], "nice": false, "zero": false}, "axis": {"values": [-5, 0, 5], "grid": false, "domain": false, "tickSize": 4, "tickColor": "#555", "labelFontSize": 8, "labelColor": "#555", "labelPadding": 2, "labelFlush": false, "title": "log2 fold change", "titleFontSize": 12, "titleFontWeight": "normal", "titleColor": "#222", "titlePadding": 1}},
       "y": {"field": "y", "type": "quantitative", "scale": {"domain": [-0.77, 20.77], "nice": false, "zero": false}, "axis": {"values": [0, 5, 10, 15, 20], "grid": false, "domain": false, "tickSize": 4, "tickColor": "#555", "labelFontSize": 8, "labelColor": "#555", "labelAngle": -90, "labelPadding": 2, "labelFlush": false, "title": "-log10 p-value", "titleFontSize": 12, "titleFontWeight": "normal", "titleColor": "#222", "titlePadding": 4}},
       "color": {"field": "g", "type": "nominal", "scale": {"domain": ["N", "L", "R"], "range": ["#1c1c1c", "#3AA3DF", "#2A5DB5"]}, "legend": null}
      }},
     {"data": {"values": [{"x": -2.63, "y": 10.4}]},
      "mark": {"type": "circle", "size": 16, "color": "#5e4a32", "opacity": 1},
      "encoding": {"x": {"field": "x", "type": "quantitative"}, "y": {"field": "y", "type": "quantitative"}}},
     {"data": {"values": [{"x": -2.32, "y": 11.8, "t": "SEC63"}]},
      "mark": {"type": "text", "fontSize": 12.5, "fontWeight": "bold", "fontStyle": "italic", "color": "#8a7354"},
      "encoding": {"x": {"field": "x", "type": "quantitative"}, "y": {"field": "y", "type": "quantitative"}, "text": {"field": "t"}}},
     {"data": {"values": [{"x": -4.33, "y": 19.45, "t": "21"}, {"x": 4.55, "y": 19.45, "t": "13"}]},
      "mark": {"type": "text", "fontSize": 13.5, "fontWeight": "bold", "color": "#1E90FF"},
      "encoding": {"x": {"field": "x", "type": "quantitative"}, "y": {"field": "y", "type": "quantitative"}, "text": {"field": "t"}}}
    ]},
   {"width": 47.3, "height": 0.01, "data": {"values": [{}]}, "mark": {"type": "point", "opacity": 0, "size": 0}},
   {"width": 252, "height": 158.6,
    "layer": [
     {"data": {"values": [
      {"pie": "B", "cat": "g1", "n": 7, "o": 1}, {"pie": "B", "cat": "g2", "n": 2, "o": 2}, {"pie": "B", "cat": "g3", "n": 12, "o": 3},
      {"pie": "B", "cat": "L1", "n": 9, "o": 4}, {"pie": "B", "cat": "L2", "n": 7, "o": 5}, {"pie": "B", "cat": "L4", "n": 5, "o": 6}
     ]},
      "transform": [{"stack": "n", "groupby": ["pie"], "sort": [{"field": "o", "order": "ascending"}], "offset": "normalize", "as": ["t0", "t1"]}],
      "mark": {"type": "arc", "outerRadius": 91, "stroke": "#333", "strokeWidth": 1.2, "xOffset": -3},
      "encoding": {
       "theta": {"field": "t0", "type": "quantitative", "scale": {"domain": [0, 1], "range": [0, 6.283185307]}},
       "theta2": {"field": "t1"},
       "color": {"field": "cat", "type": "nominal", "scale": {"domain": ["g1", "g2", "g3", "L1", "L2", "L4"], "range": ["#EEEEEE", "#D2D2D2", "#B0B0B0", "#A6DBFF", "#7EC4F7", "#14A1E6"]}, "legend": null}
      }},
     {"data": {"values": [{"t": "50.00%"}]},
      "mark": {"type": "text", "radius": 126, "fontSize": 15, "fontWeight": "bold", "color": "#1E8FFF", "xOffset": -3},
      "encoding": {"theta": {"datum": 0.83, "type": "quantitative"}, "text": {"field": "t"}}},
     {"data": {"values": [{"t": "Negatively affected proteome"}]},
      "mark": {"type": "text", "dy": -113.3, "dx": 17, "fontSize": 16.5, "color": "#000"},
      "encoding": {"text": {"field": "t"}}}
    ]},

   {"width": 76, "height": 0.01, "data": {"values": [{}]}, "mark": {"type": "point", "opacity": 0, "size": 0}},
   {"width": 278, "height": 70, "data": {"values": [{"t": "Positively affected proteins:\nProtein transport components (SEC23B)"}]},
    "mark": {"type": "text", "lineBreak": "\n", "lineHeight": 15, "fontSize": 12.5, "baseline": "middle", "dy": 11, "color": "#111"},
    "encoding": {"text": {"field": "t"}}},
   {"width": 47.3, "height": 0.01, "data": {"values": [{}]}, "mark": {"type": "point", "opacity": 0, "size": 0}},
   {"width": 252, "height": 16,
    "layer": [
     {"data": {"values": [
      {"pie": "p1", "cat": "navy", "n": 14.29, "o": 1}, {"pie": "p1", "cat": "rest", "n": 85.71, "o": 2},
      {"pie": "p2", "cat": "blue", "n": 23.81, "o": 1}, {"pie": "p2", "cat": "rest", "n": 76.19, "o": 2},
      {"pie": "p3", "cat": "lblue", "n": 38.10, "o": 1}, {"pie": "p3", "cat": "rest", "n": 61.90, "o": 2}
     ]},
      "transform": [{"stack": "n", "groupby": ["pie"], "sort": [{"field": "o", "order": "ascending"}], "offset": "normalize", "as": ["t0", "t1"]}],
      "mark": {"type": "arc", "outerRadius": 36.5, "stroke": "#8a8a8a", "strokeWidth": 0.8},
      "encoding": {
       "x": {"field": "pie", "type": "nominal", "axis": null},
       "theta": {"field": "t0", "type": "quantitative", "scale": {"domain": [0, 1], "range": [0, 6.283185307]}},
       "theta2": {"field": "t1"},
       "color": {"field": "cat", "type": "nominal", "scale": {"domain": ["navy", "blue", "lblue", "rest"], "range": ["#0E5274", "#17A2E6", "#7DC5F8", "#EEEEEE"]}, "legend": null}
      }},
     {"data": {"values": [{"pie": "p1", "t": "14.29%"}, {"pie": "p2", "t": "23.81%"}, {"pie": "p3", "t": "38.10%"}]},
      "mark": {"type": "text", "dy": -54, "fontSize": 15, "fontWeight": "bold", "color": "#1E8FFF"},
      "encoding": {"x": {"field": "pie", "type": "nominal", "axis": null}, "text": {"field": "t"}}}
    ]}
  ]}
]
}
